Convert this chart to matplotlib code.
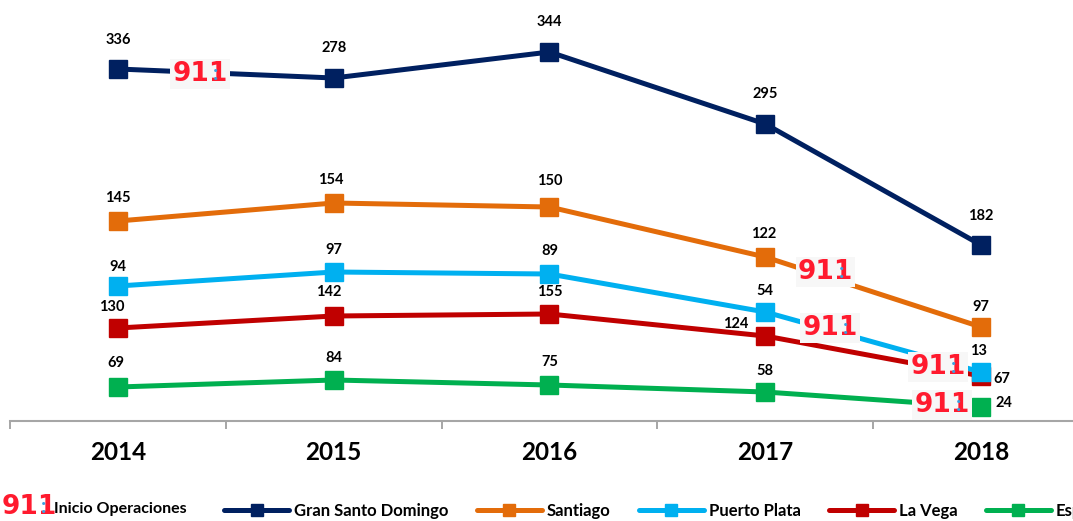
import matplotlib
matplotlib.use("Agg")
import matplotlib.pyplot as plt
from matplotlib.lines import Line2D

plt.rcParams['font.family'] = ['Lato', 'DejaVu Sans']

years = ['2014', '2015', '2016', '2017', '2018']
names = ['Gran Santo Domingo', 'Santiago', 'Puerto Plata', 'La Vega', 'Espaillat']
colors = ['#002060', '#E36C0A', '#00B0F0', '#C00000', '#00B050']

# the labels do not follow the drawn height in the source, so both are kept
santo_domingo = [352, 343, 369, 297, 176]
santiago = [200, 218, 214, 164, 94]
puerto_plata = [135, 149, 147, 109, 49]
la_vega = [93, 105, 107, 85, 45]
espaillat = [34, 41, 36, 29, 14]
heights = [santo_domingo, santiago, puerto_plata, la_vega, espaillat]

labels_sd = [336, 278, 344, 295, 182]
labels_santiago = [145, 154, 150, 122, 97]
labels_pp = [94, 97, 89, 54, 13]
labels_lv = [130, 142, 155, 124, 67]
labels_esp = [69, 84, 75, 58, 24]
labels = [labels_sd, labels_santiago, labels_pp, labels_lv, labels_esp]

# label offsets from the marker, in pixels
offsets = [
    [(0, 29), (0, 30), (0, 30), (0, 30), (0, 29)],
    [(0, 23), (-3, 23), (0, 26), (-2, 23), (0, 20)],
    [(0, 19), (0, 22), (0, 23), (0, 21), (-3, 21)],
    [(-6, 21), (-5, 24), (0, 22), (-30, 12), (21, -3)],
    [(-2, 24), (0, 22), (0, 23), (0, 21), (23, 4)],
]
draw_order = [0, 1, 3, 2, 4]

# where the 911 badges sit: x in category units, height in axis units
badge_x = [0.38, 3.28, 3.30, 3.80, 3.82]
badge_h = [347, 149, 93, 54, 16]


def draw_badge(ax, x, y):
    ax.text(x, y, '911', color='#FF1A2E', fontsize=19, fontweight='bold',
            family='Liberation Sans Narrow', ha='center', va='center', zorder=6,
            bbox=dict(facecolor='#F7F7F7', edgecolor='none', pad=1.5))
    ax.annotate(':', (x, y), xytext=(11.5, 0), textcoords='offset points', color='#3AA0E0',
                fontsize=15, fontweight='bold', ha='center', va='center', zorder=7)


fig = plt.figure(figsize=(10.73, 5.21), dpi=100)
ax = fig.add_axes([10 / 1073, 100 / 521, 1063 / 1073, 421 / 521])

for i in draw_order:
    ax.plot(range(len(years)), heights[i], color=colors[i], lw=3.6, marker='s', ms=13.5,
            solid_capstyle='round', zorder=3 + draw_order.index(i) * 0.1)
    for j, value in enumerate(labels[i]):
        dx, dy = offsets[i][j]
        ax.annotate(str(value), (j, heights[i][j]), xytext=(dx * 0.72, dy * 0.72),
                    textcoords='offset points', ha='center', va='center',
                    fontsize=10.5, fontweight='bold', color='black', zorder=8)

for x, y in zip(badge_x, badge_h):
    draw_badge(ax, x, y)

ax.set_xlim(-0.5, 4.426)
ax.set_ylim(0, 421)
ax.set_yticks([])
ax.set_xticks([-0.5, 0.5, 1.5, 2.5, 3.5])
ax.set_xticklabels([])
ax.tick_params(axis='x', length=5.5, width=1.4, color='#A6A6A6')
for side in ['top', 'left', 'right']:
    ax.spines[side].set_visible(False)
ax.spines['bottom'].set_color('#A6A6A6')
ax.spines['bottom'].set_linewidth(1.5)
ax.patch.set_alpha(0)

for j, year in enumerate(years):
    ax.annotate(year, (j, 0), xytext=(0, -23), textcoords='offset points', ha='center', va='center',
                fontsize=17.5, fontweight='bold', color='black')

handles = [Line2D([], [], color=c, lw=3.6, marker='s', ms=8.5, solid_capstyle='round') for c in colors]
leg = fig.legend(handles, names, loc='center left', bbox_to_anchor=(224 / 1073, 10 / 521), ncols=5,
                 frameon=False, handlelength=3.9, handletextpad=0.3, columnspacing=1.7,
                 borderpad=0, borderaxespad=0, prop=dict(size=12, weight='bold'))

fig.text(54 / 1073, 12 / 521, 'Inicio Operaciones', fontsize=11.5, fontweight='bold', va='center', ha='left')
fig.text(29 / 1073, 14 / 521, '911', color='#FF1A2E', fontsize=19, fontweight='bold',
         family='Liberation Sans Narrow', ha='center', va='center')
fig.text(44 / 1073, 14 / 521, ':', color='#3AA0E0', fontsize=15, fontweight='bold', ha='center', va='center')

fig.savefig('out.png', dpi=100)
